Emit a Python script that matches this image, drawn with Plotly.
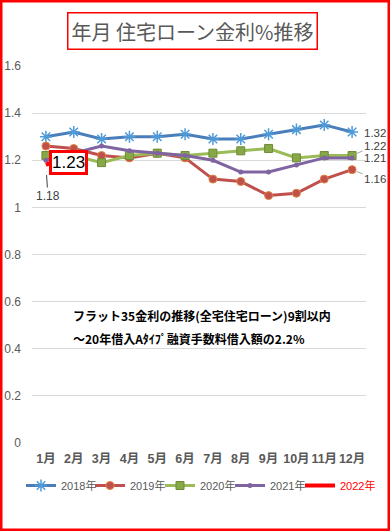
import plotly.graph_objects as go

months = ["1月", "2月", "3月", "4月", "5月", "6月", "7月", "8月", "9月", "10月", "11月", "12月"]
rate_2018 = [1.30, 1.32, 1.29, 1.30, 1.30, 1.31, 1.29, 1.29, 1.31, 1.33, 1.35, 1.32]
rate_2019 = [1.26, 1.25, 1.22, 1.21, 1.23, 1.21, 1.12, 1.11, 1.05, 1.06, 1.12, 1.16]
rate_2020 = [1.22, 1.22, 1.19, 1.22, 1.23, 1.22, 1.23, 1.24, 1.25, 1.21, 1.22, 1.22]
rate_2021 = [1.20, 1.23, 1.26, 1.24, 1.23, 1.22, 1.20, 1.15, 1.15, 1.18, 1.21, 1.21]
rate_2022 = [1.18, 1.23]
y_ticks = [0, 0.2, 0.4, 0.6, 0.8, 1, 1.2, 1.4, 1.6]
y_ticktext = ["0", "0.2", "0.4", "0.6", "0.8", "1", "1.2", "1.4", "1.6"]

W, H = 390, 531
ML, MR, MT, MB = 32, 24, 66, 88
PW, PH = W - ML - MR, H - MT - MB


def px_x(p):
    return (p - ML) / PW


def px_y(p):
    return (H - MB - p) / PH


FONT = "Liberation Sans, Arial, Noto Sans CJK JP, sans-serif"
JFONT = "Noto Sans CJK JP, sans-serif"
GRAY = "#595959"

fig = go.Figure()
fig.add_trace(go.Scatter(
    x=months, y=rate_2018, name="2018年", mode="lines+markers", legend="legend",
    line=dict(color="#4A7EBB", width=3),
    marker=dict(symbol="asterisk-open", size=10, color="#4F9BD8", line=dict(width=1.5, color="#4F9BD8")),
))
fig.add_trace(go.Scatter(
    x=months, y=rate_2019, name="2019年", mode="lines+markers", legend="legend2",
    line=dict(color="#C0504D", width=3),
    marker=dict(symbol="circle", size=8, color="#C0504D", line=dict(width=1, color="#E0853C")),
))
fig.add_trace(go.Scatter(
    x=months, y=rate_2020, name="2020年", mode="lines+markers", legend="legend3",
    line=dict(color="#9BBB59", width=3),
    marker=dict(symbol="square", size=8, color="#86A846", line=dict(width=1, color="#6E8B35")),
))
fig.add_trace(go.Scatter(
    x=months, y=rate_2021, name="2021年", mode="lines+markers", legend="legend4",
    line=dict(color="#8064A2", width=3),
    marker=dict(symbol="circle", size=5, color="#8064A2"),
))
fig.add_trace(go.Scatter(
    x=months[:len(rate_2022)], y=rate_2022, name="<span style='color:#FF0000'>2022年</span>",
    mode="lines", legend="legend5", line=dict(color="#FF0000", width=4),
))

ann = []
# title box
ann.append(dict(
    xref="paper", yref="paper", x=px_x(192), y=px_y(31), xanchor="center", yanchor="middle",
    text="年月 住宅ローン金利%推移", showarrow=False,
    font=dict(family=JFONT, size=20, color=GRAY),
    bordercolor="#FF0000", borderwidth=1.5, borderpad=3, bgcolor="white",
))
# middle note
ann.append(dict(
    xref="paper", yref="paper", x=px_x(71), y=px_y(315), xanchor="left", yanchor="middle",
    text="<b>フラット35金利の推移(全宅住宅ローン)9割以内</b>", showarrow=False,
    font=dict(family=JFONT, size=12, color="black"),
))
ann.append(dict(
    xref="paper", yref="paper", x=px_x(71), y=px_y(338), xanchor="left", yanchor="middle",
    text="<b>～20年借入Aﾀｲﾌﾟ融資手数料借入額の2.2%</b>", showarrow=False,
    font=dict(family=JFONT, size=12, color="black"),
))
# end labels
lab_font = dict(family=FONT, size=11.5, color="#404040")
ann.append(dict(x=months[-1], y=rate_2018[-1], text=f"{rate_2018[-1]:.2f}", showarrow=False,
                xanchor="left", xshift=10, yshift=-1, font=lab_font))
ann.append(dict(x=months[-1], y=rate_2020[-1], text=f"{rate_2020[-1]:.2f}", showarrow=True,
                arrowhead=0, arrowwidth=1, arrowcolor="#A6A6A6", ax=23, ay=-10, standoff=3,
                font=lab_font))
ann.append(dict(x=months[-1], y=rate_2021[-1], text=f"{rate_2021[-1]:.2f}", showarrow=False,
                xanchor="left", xshift=10, yshift=0, font=lab_font))
ann.append(dict(x=months[-1], y=rate_2019[-1], text=f"{rate_2019[-1]:.2f}", showarrow=True,
                arrowhead=0, arrowwidth=1, arrowcolor="#A6A6A6", ax=23, ay=9, standoff=5,
                font=lab_font))
# 2022 labels
ann.append(dict(x=months[0], y=rate_2022[0], text=f"{rate_2022[0]:.2f}", showarrow=True,
                arrowhead=0, arrowwidth=1, arrowcolor="#404040", ax=2, ay=31, standoff=10,
                font=dict(family=FONT, size=12, color="#404040")))
ann.append(dict(x=months[1], y=rate_2022[1], text=f"{rate_2022[1]:.2f}", showarrow=False,
                xshift=-5, yshift=-9, font=dict(family=FONT, size=17, color="black"),
                bordercolor="#FF0000", borderwidth=3, borderpad=0, bgcolor="white"))

legend_starts = [21, 90, 160, 230, 300]


def legend_cfg(px):
    return dict(
        orientation="h", x=px_x(px), y=px_y(471), xanchor="left", yanchor="top",
        font=dict(family=FONT, size=11, color=GRAY), itemwidth=30,
        bgcolor="rgba(0,0,0,0)",
    )


fig.update_layout(
    width=W, height=H,
    margin=dict(l=ML, r=MR, t=MT, b=MB, autoexpand=False),
    paper_bgcolor="white", plot_bgcolor="white",
    font=dict(family=FONT, color=GRAY),
    showlegend=True,
    legend=legend_cfg(legend_starts[0]),
    legend2=legend_cfg(legend_starts[1]),
    legend3=legend_cfg(legend_starts[2]),
    legend4=legend_cfg(legend_starts[3]),
    legend5=legend_cfg(legend_starts[4]),
    xaxis=dict(
        type="category", categoryorder="array", categoryarray=months,
        range=[-0.5, len(months) - 0.5], automargin=False,
        showgrid=False, zeroline=False, showline=False, ticks="", tickangle=0,
        tickfont=dict(family=FONT, size=12.5, color=GRAY, weight="bold"),
        ticklabelstandoff=6,
    ),
    yaxis=dict(
        range=[0, 1.6], tickvals=y_ticks, ticktext=y_ticktext, automargin=False,
        showgrid=True, gridcolor="#D9D9D9", gridwidth=1,
        zeroline=False, showline=False, ticks="",
        tickfont=dict(family=FONT, size=12, color=GRAY),
        ticklabelstandoff=10,
    ),
    annotations=ann,
    shapes=[dict(
        type="rect", xref="paper", yref="paper",
        x0=px_x(1.25), x1=px_x(388.75), y0=px_y(529.75), y1=px_y(1.25),
        line=dict(color="#FF0000", width=2.5), fillcolor="rgba(0,0,0,0)", layer="above",
    )],
)

fig.write_html(
    "out.html",
    config={"displayModeBar": False},
    post_script="document.body.style.margin='0';document.body.style.padding='0';"
                "document.body.style.overflow='hidden';",
)
